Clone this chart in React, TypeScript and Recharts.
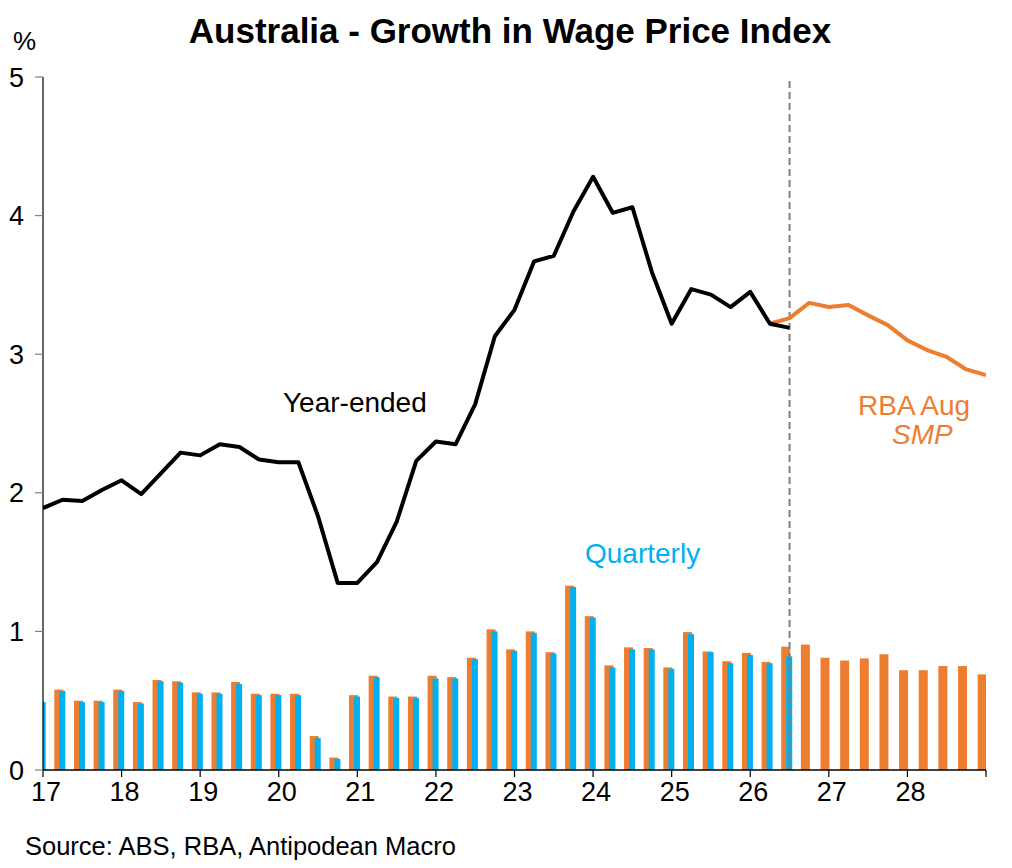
import React from "react";
import {
  ComposedChart,
  Bar,
  Line,
  XAxis,
  YAxis,
  ReferenceLine,
} from "recharts";

// Quarter labels (quarter-end month - two-digit year)
const quarters = [
  "Dec-16",
  "Mar-17", "Jun-17", "Sep-17", "Dec-17",
  "Mar-18", "Jun-18", "Sep-18", "Dec-18",
  "Mar-19", "Jun-19", "Sep-19", "Dec-19",
  "Mar-20", "Jun-20", "Sep-20", "Dec-20",
  "Mar-21", "Jun-21", "Sep-21", "Dec-21",
  "Mar-22", "Jun-22", "Sep-22", "Dec-22",
  "Mar-23", "Jun-23", "Sep-23", "Dec-23",
  "Mar-24", "Jun-24", "Sep-24", "Dec-24",
  "Mar-25", "Jun-25", "Sep-25", "Dec-25",
  "Mar-26", "Jun-26", "Sep-26", "Dec-26",
  "Mar-27", "Jun-27", "Sep-27", "Dec-27",
  "Mar-28", "Jun-28", "Sep-28", "Dec-28",
];

// Year-ended growth, actual (Dec-16 .. Jun-26)
const wpiYearEnded = [
  1.89,
  1.95, 1.94, 2.02, 2.09,
  1.99, 2.14, 2.29, 2.27,
  2.35, 2.33, 2.24, 2.22,
  2.22, 1.83, 1.35, 1.35,
  1.5, 1.79, 2.23, 2.37,
  2.35, 2.64, 3.13, 3.32,
  3.67, 3.71, 4.03, 4.28,
  4.02, 4.06, 3.59, 3.22,
  3.47, 3.43, 3.34, 3.45,
  3.22, 3.19,
];

// Quarterly growth, actual (Dec-16 .. Jun-26)
const wpiQuarterly = [
  0.49,
  0.57, 0.49, 0.49, 0.57,
  0.48, 0.64, 0.63, 0.55,
  0.55, 0.62, 0.54, 0.54,
  0.54, 0.23, 0.08, 0.53,
  0.67, 0.52, 0.52, 0.66,
  0.66, 0.8, 1.0, 0.86,
  0.99, 0.84, 1.32, 1.1,
  0.74, 0.87, 0.87, 0.73,
  0.98, 0.85, 0.77, 0.83,
  0.77, 0.82,
];

// Quarterly growth, RBA series incl. August SMP forecast (Dec-16 .. Dec-28)
const rbaQuarterly = [
  0.5,
  0.58, 0.5, 0.5, 0.58,
  0.49, 0.65, 0.64, 0.56,
  0.56, 0.635, 0.55, 0.55,
  0.55, 0.245, 0.09, 0.54,
  0.68, 0.53, 0.53, 0.68,
  0.67, 0.81, 1.015, 0.87,
  1.0, 0.85, 1.33, 1.11,
  0.755, 0.885, 0.88, 0.74,
  0.995, 0.855, 0.785, 0.845,
  0.78, 0.89, 0.905, 0.81,
  0.79, 0.805, 0.835, 0.72,
  0.72, 0.75, 0.75, 0.69,
];

// Year-ended growth, RBA August SMP forecast (from Mar-26)
const rbaForecastStart = "Mar-26";
const rbaYearEnded = [
  3.22, 3.26, 3.37, 3.34,
  3.355, 3.28, 3.21, 3.1,
  3.03, 2.98, 2.89, 2.85,
];

const yearTicks = [17, 18, 19, 20, 21, 22, 23, 24, 25, 26, 27, 28, 29];
const yTicks = [0, 1, 2, 3, 4, 5];
const lastActual = "Jun-26";

const MONTH_FRAC: Record<string, number> = { Mar: 3, Jun: 6, Sep: 9, Dec: 12 };
const timeOf = (q: string) => {
  const [m, y] = q.split("-");
  return Number(y) + MONTH_FRAC[m] / 12;
};

const ORANGE = "#ED7D31";
const BLUE = "#00B0F0";
const FONT = "'Liberation Sans', Arial, Helvetica, sans-serif";

const startIdx = quarters.indexOf(rbaForecastStart);
const rows = quarters.map((q, i) => ({
  q,
  t: timeOf(q),
  rbaQ: rbaQuarterly[i] ?? null,
  wpiQ: wpiQuarterly[i] ?? null,
  wpiY: wpiYearEnded[i] ?? null,
  rbaY: i >= startIdx ? rbaYearEnded[i - startIdx] ?? null : null,
}));

const shiftedBar = (fill: string, shift: number) => (props: any) => {
  const { x, y, width, height } = props;
  if (x == null || !height || height <= 0) return <g />;
  return <rect x={x + shift} y={y} width={width} height={height} fill={fill} />;
};

const XTick = (props: any) => {
  const { x, y, payload } = props;
  const v = payload.value;
  return (
    <text
      x={x + 3}
      y={y + 21.5}
      textAnchor="middle"
      fontSize={27}
      fontFamily={FONT}
      fill="#000"
    >
      {v === 29 ? "" : String(v)}
    </text>
  );
};

const YTick = (props: any) => {
  const { x, y, payload } = props;
  return (
    <text
      x={x - 9}
      y={y + 9.6}
      textAnchor="end"
      fontSize={27}
      fontFamily={FONT}
      fill="#000"
    >
      {String(payload.value)}
    </text>
  );
};

export default function App() {
  return (
    <div
      style={{
        position: "absolute",
        left: 0,
        top: 0,
        width: 1012,
        height: 868,
        background: "#fff",
        fontFamily: FONT,
      }}
    >
      <ComposedChart
        width={1012}
        height={868}
        data={rows}
        margin={{ top: 77, right: 26, bottom: 0, left: 0 }}
        barGap={-4}
      >
        <XAxis
          type="number"
          dataKey="t"
          domain={[17, 29]}
          ticks={yearTicks}
          allowDataOverflow
          interval={0}
          height={98}
          tickSize={7}
          tickLine={{ stroke: "#000", strokeWidth: 1.2 }}
          axisLine={{ stroke: "#000", strokeWidth: 1.5 }}
          tick={<XTick />}
        />
        <YAxis
          type="number"
          domain={[0, 5]}
          ticks={yTicks}
          width={43}
          tickSize={8}
          tickLine={{ stroke: "#808080", strokeWidth: 1.2 }}
          axisLine={{ stroke: "#000", strokeWidth: 1.2 }}
          tick={<YTick />}
        />
        <Bar
          dataKey="rbaQ"
          fill={ORANGE}
          barSize={9}
          isAnimationActive={false}
          shape={shiftedBar(ORANGE, -2.5)}
        />
        <Bar
          dataKey="wpiQ"
          fill={BLUE}
          barSize={6}
          isAnimationActive={false}
          shape={shiftedBar(BLUE, -2.5)}
        />
        <ReferenceLine
          x={timeOf(lastActual)}
          stroke="#808080"
          strokeWidth={2}
          strokeDasharray="7 4"
        />
        <Line
          dataKey="rbaY"
          stroke={ORANGE}
          strokeWidth={4}
          dot={false}
          activeDot={false}
          strokeLinejoin="round"
          isAnimationActive={false}
        />
        <Line
          dataKey="wpiY"
          stroke="#000"
          strokeWidth={4}
          dot={false}
          activeDot={false}
          strokeLinejoin="round"
          isAnimationActive={false}
        />
      </ComposedChart>
      <svg
        width={1012}
        height={868}
        style={{ position: "absolute", left: 0, top: 0, pointerEvents: "none" }}
      >
        <text
          x={510}
          y={43}
          textAnchor="middle"
          fontSize={35}
          fontWeight="bold"
          fontFamily={FONT}
          fill="#000"
        >
          Australia - Growth in Wage Price Index
        </text>
        <text x={13} y={50} fontSize={26} fontFamily={FONT} fill="#000">
          %
        </text>
        <text x={283} y={412} fontSize={28} fontFamily={FONT} fill="#000">
          Year-ended
        </text>
        <text x={585} y={563} fontSize={28} fontFamily={FONT} fill={BLUE}>
          Quarterly
        </text>
        <text x={858} y={415} fontSize={28} fontFamily={FONT} fill={ORANGE}>
          RBA Aug
        </text>
        <text
          x={892}
          y={444}
          fontSize={28}
          fontStyle="italic"
          fontFamily={FONT}
          fill={ORANGE}
        >
          SMP
        </text>
        <text x={25} y={855} fontSize={25.5} fontFamily={FONT} fill="#000">
          Source: ABS, RBA, Antipodean Macro
        </text>
      </svg>
    </div>
  );
}
